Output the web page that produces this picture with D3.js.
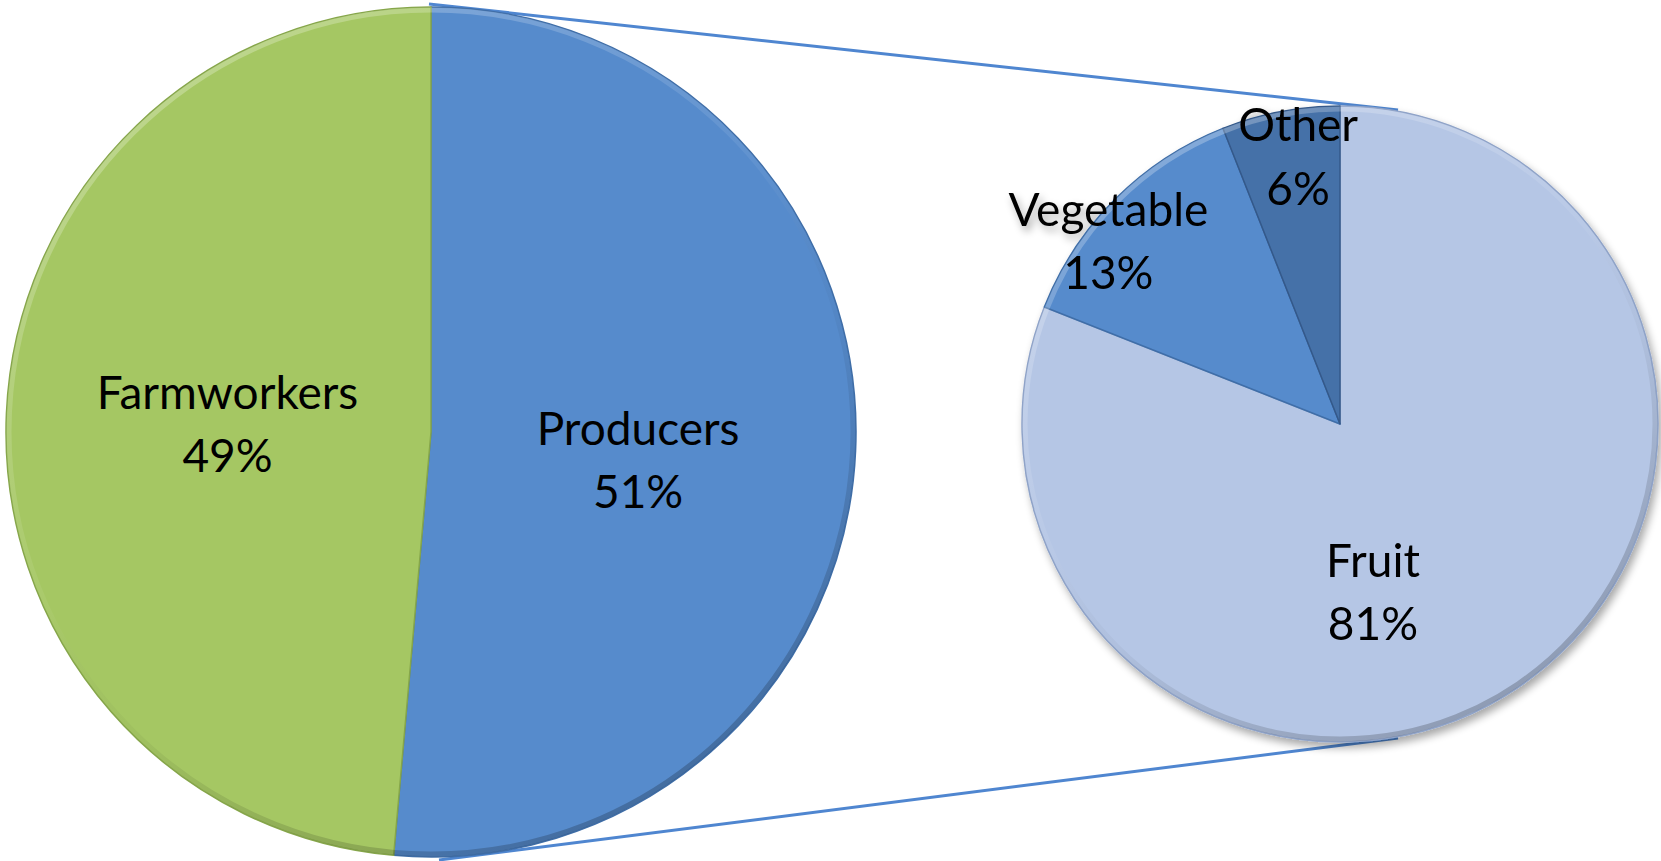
<!DOCTYPE html>
<html>
<head>
<meta charset="utf-8">
<script src="https://cdn.jsdelivr.net/npm/d3@7"></script>
<style>
  html, body { margin: 0; padding: 0; background: #fff; }
  svg text { font-family: Lato, "Open Sans", sans-serif; fill: #000; }
</style>
</head>
<body>
<div id="chart"></div>
<script>
// main pie (labels round to 51% / 49%)
var mainCategories = ["Producers", "Farmworkers"];
var mainValues = [51.4, 48.6];
// breakdown of producers
var subCategories = ["Fruit", "Vegetable", "Other"];
var subValues = [81, 13, 6];

var W = 1661, H = 861;

var svg = d3.select("#chart")
  .append("svg")
    .attr("width", W)
    .attr("height", H);

var defs = svg.append("defs");

// soft drop shadow for the breakdown pie
var shadow = defs.append("filter").attr("id", "shadow")
  .attr("x", "-10%").attr("y", "-10%").attr("width", "125%").attr("height", "125%");
shadow.append("feGaussianBlur").attr("in", "SourceAlpha").attr("stdDeviation", 4).attr("result", "b");
shadow.append("feOffset").attr("in", "b").attr("dx", 3).attr("dy", 5).attr("result", "o");
shadow.append("feComponentTransfer").attr("in", "o").attr("result", "s")
  .append("feFuncA").attr("type", "linear").attr("slope", 0.35);
var fm = shadow.append("feMerge");
fm.append("feMergeNode").attr("in", "s");
fm.append("feMergeNode").attr("in", "SourceGraphic");

// bevel rim: light at top-left, darker at bottom-right
var rim = defs.append("linearGradient").attr("id", "rim")
  .attr("x1", "0.2").attr("y1", "0").attr("x2", "0.8").attr("y2", "1");
rim.append("stop").attr("offset", "0%").attr("stop-color", "#fff").attr("stop-opacity", 0.3);
rim.append("stop").attr("offset", "45%").attr("stop-color", "#fff").attr("stop-opacity", 0.05);
rim.append("stop").attr("offset", "60%").attr("stop-color", "#000").attr("stop-opacity", 0.03);
rim.append("stop").attr("offset", "100%").attr("stop-color", "#000").attr("stop-opacity", 0.25);

var pie = d3.pie().sort(null).value(function(d) { return d.value; });

function drawPie(g, cats, vals, r, colors, strokes, labelPos, fontSize) {
  var data = cats.map(function(c, i) { return {name: c, value: vals[i]}; });
  var total = d3.sum(vals);
  var arcs = pie(data);
  var arc = d3.arc().innerRadius(0).outerRadius(r);

  g.selectAll("path.slice")
    .data(arcs)
    .enter()
    .append("path")
      .attr("class", "slice")
      .attr("d", arc)
      .style("fill", function(d, i) { return colors[i]; })
      .style("stroke", function(d, i) { return strokes[i]; })
      .style("stroke-width", 1.5)
      .style("stroke-linejoin", "round");

  // inner highlight along the rim
  g.append("circle")
    .attr("r", r - 3)
    .style("fill", "none")
    .style("stroke", "url(#rim)")
    .style("stroke-width", 5);

  var lab = g.selectAll("text.lab")
    .data(arcs)
    .enter()
    .append("text")
      .attr("class", "lab")
      .attr("text-anchor", "middle")
      .style("font-size", fontSize + "px")
      .attr("transform", function(d) {
        var p = labelPos[d.data.name];
        var a = p.angle !== undefined ? p.angle * Math.PI / 180 : (d.startAngle + d.endAngle) / 2;
        var rr = p.r * r;
        return "translate(" + (rr * Math.sin(a)) + "," + (-rr * Math.cos(a)) + ")";
      });
  lab.append("tspan")
    .attr("x", 0).attr("dy", "-0.2em")
    .text(function(d) { return d.data.name; });
  lab.append("tspan")
    .attr("x", 0).attr("dy", "1.38em")
    .text(function(d) { return Math.round(d.data.value / total * 100) + "%"; });
}

// geometry
var mainC = [431, 432], mainR = 425;
var subC = [1340, 424], subR = 318;

// connector lines
var conn = svg.append("g")
  .style("stroke", "#4F86D0")
  .style("stroke-width", 3)
  .style("fill", "none");
conn.append("line")
  .attr("x1", mainC[0] - 2).attr("y1", mainC[1] - mainR - 3)
  .attr("x2", subC[0] + 58).attr("y2", subC[1] - subR + 4);
conn.append("line")
  .attr("x1", mainC[0] + 8).attr("y1", mainC[1] + mainR + 3)
  .attr("x2", subC[0] + 58).attr("y2", subC[1] + subR - 4);

var gMain = svg.append("g").attr("transform", "translate(" + mainC + ")");
drawPie(gMain, mainCategories, mainValues, mainR,
  ["#568BCC", "#A5C763"], ["#3F6EA8", "#86A64A"],
  {Producers: {r: 0.49, angle: 96}, Farmworkers: {r: 0.48, angle: 274}}, 46);

var gSub = svg.append("g")
  .attr("transform", "translate(" + subC + ")")
  .style("filter", "url(#shadow)");
drawPie(gSub, subCategories, subValues, subR,
  ["#B5C6E5", "#568BCC", "#4571A8"], ["#8FA3C8", "#3F6EA8", "#34598A"],
  {Fruit: {r: 0.52, angle: 168.5}, Vegetable: {r: 0.94, angle: 309.2}, Other: {r: 0.87, angle: 351.3}}, 46);
</script>
</body>
</html>
